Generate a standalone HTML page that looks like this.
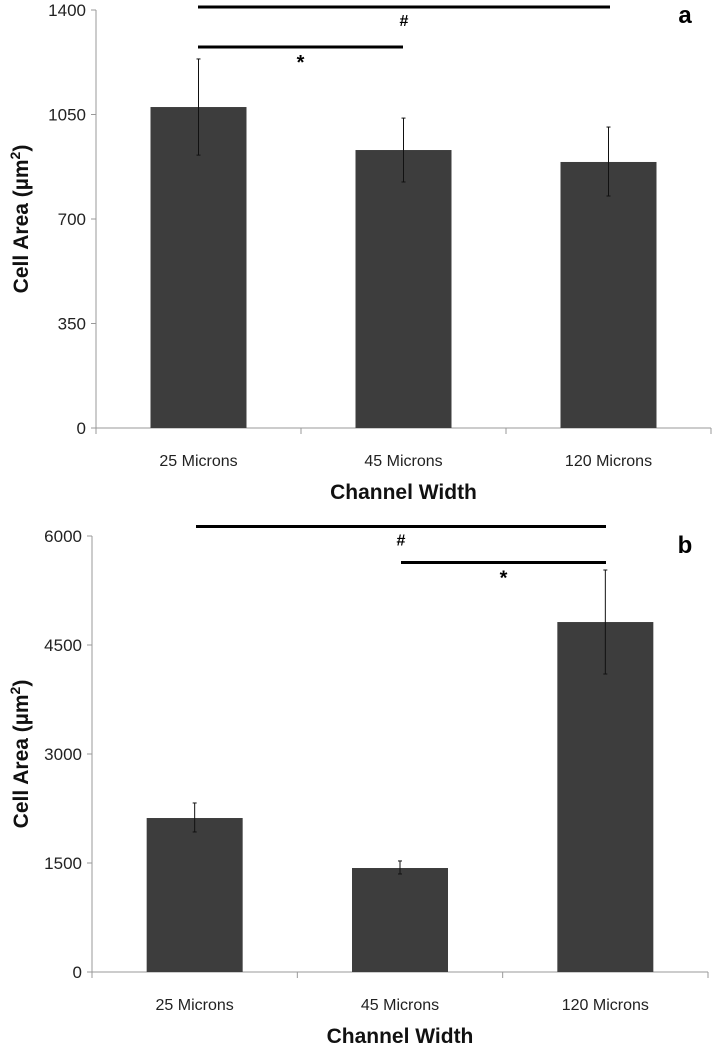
<!DOCTYPE html>
<html><head><meta charset="utf-8"><style>
body{margin:0;background:#fff;width:717px;height:1050px;overflow:hidden}
svg{display:block;font-family:"Liberation Sans","DejaVu Sans",sans-serif}
</style></head><body>
<svg id="c" width="717" height="1050"></svg>
<script>
const categories=["25 Microns","45 Microns","120 Microns"];
const valuesA=[1075,931,891];
const errUpA=[1236,1038,1008];
const errLoA=[914,824,777];
const ticksA=[0,350,700,1050,1400];
const valuesB=[2119,1431,4816];
const errUpB=[2326,1528,5532];
const errLoB=[1927,1349,4101];
const ticksB=[0,1500,3000,4500,6000];
const NS="http://www.w3.org/2000/svg";
const svg=document.getElementById('c');
function mk(t,a,p){const e=document.createElementNS(NS,t);for(const k in a)e.setAttribute(k,a[k]);(p||svg).appendChild(e);return e;}
function panel(o){
 const g=mk('g',{});
 
 
 const max=o.ticks[o.ticks.length-1];
 const y=v=>o.y0-(v/max)*(o.y0-o.yTop);
 const band=(o.xEnd-o.x0)/categories.length;
 const xc=i=>o.x0+band*(i+0.5);
 const ax=mk('line',{x1:o.x0,y1:o.yTop,x2:o.x0,y2:o.y0,stroke:'#999','stroke-width':1},g);
 
 const xx=mk('line',{x1:o.x0-5,y1:o.y0,x2:o.xEnd,y2:o.y0,stroke:'#999','stroke-width':1},g);
 
 o.ticks.forEach(t=>{
  mk('line',{x1:o.x0-5,y1:y(t),x2:o.x0,y2:y(t),stroke:'#999'},g);
  const tx=mk('text',{x:o.x0-10,y:y(t)+6,'text-anchor':'end','font-size':17,fill:'#222'},g);
  tx.textContent=t;
  
 });
 for(let i=0;i<=categories.length;i++)mk('line',{x1:o.x0+band*i,y1:o.y0,x2:o.x0+band*i,y2:o.y0+6,stroke:'#999'},g);
 categories.forEach((c,i)=>{
  const b=mk('rect',{x:xc(i)-48,y:y(o.vals[i]),width:96,height:o.y0-y(o.vals[i]),fill:'#3d3d3d'},g);
  
  const e=mk('line',{x1:xc(i),y1:y(o.up[i]),x2:xc(i),y2:y(o.lo[i]),stroke:'#111','stroke-width':1},g);
  
  mk('line',{x1:xc(i)-2,y1:y(o.up[i]),x2:xc(i)+2,y2:y(o.up[i]),stroke:'#111'},g);
  mk('line',{x1:xc(i)-2,y1:y(o.lo[i]),x2:xc(i)+2,y2:y(o.lo[i]),stroke:'#111'},g);
  const l=mk('text',{x:xc(i),y:o.y0+38,'text-anchor':'middle','font-size':16,fill:'#222'},g);
  l.textContent=c;
 });
 const xt=mk('text',{x:o.x0+band*1.5,y:o.y0+71,'text-anchor':'middle','font-size':21,'font-weight':'bold',fill:'#111'},g);
 xt.textContent='Channel Width';
 const cy=(o.y0+o.yTop)/2;
 const yt=mk('text',{x:0,y:0,transform:`translate(28,${cy}) rotate(-90)`,'text-anchor':'middle','font-size':21,'font-weight':'bold',fill:'#111'},g);
 yt.innerHTML='Cell Area (µm<tspan dy="-8" font-size="14">2</tspan><tspan dy="8">)</tspan>';
 
 o.sig.forEach(s=>{
  const ln=mk('line',{x1:s[0],y1:s[2],x2:s[1],y2:s[2],stroke:'#000','stroke-width':3},g);
  
  const st=mk('text',{x:(s[0]+s[1])/2,y:s[2]+(s[3]=='*'?22:19),'text-anchor':'middle','font-size':s[3]=='*'?20:16,'font-weight':'bold',fill:'#000'},g);
  st.textContent=s[3];
 });
 const pl=mk('text',{x:685,y:o.letterY,'text-anchor':'middle','font-size':24,'font-weight':'bold',fill:'#000'},g);
 pl.textContent=o.letter;
}
panel({name:'panel-a',x0:96,xEnd:711,y0:428,yTop:10,ticks:ticksA,vals:valuesA,up:errUpA,lo:errLoA,
 sig:[[198,610,7,'#'],[198,403,47,'*']],letter:'a',letterY:23});
panel({name:'panel-b',x0:92,xEnd:708,y0:972,yTop:536,ticks:ticksB,vals:valuesB,up:errUpB,lo:errLoB,
 sig:[[196,606,526.5,'#'],[401,606,562.5,'*']],letter:'b',letterY:553});
</script>
</body></html>
